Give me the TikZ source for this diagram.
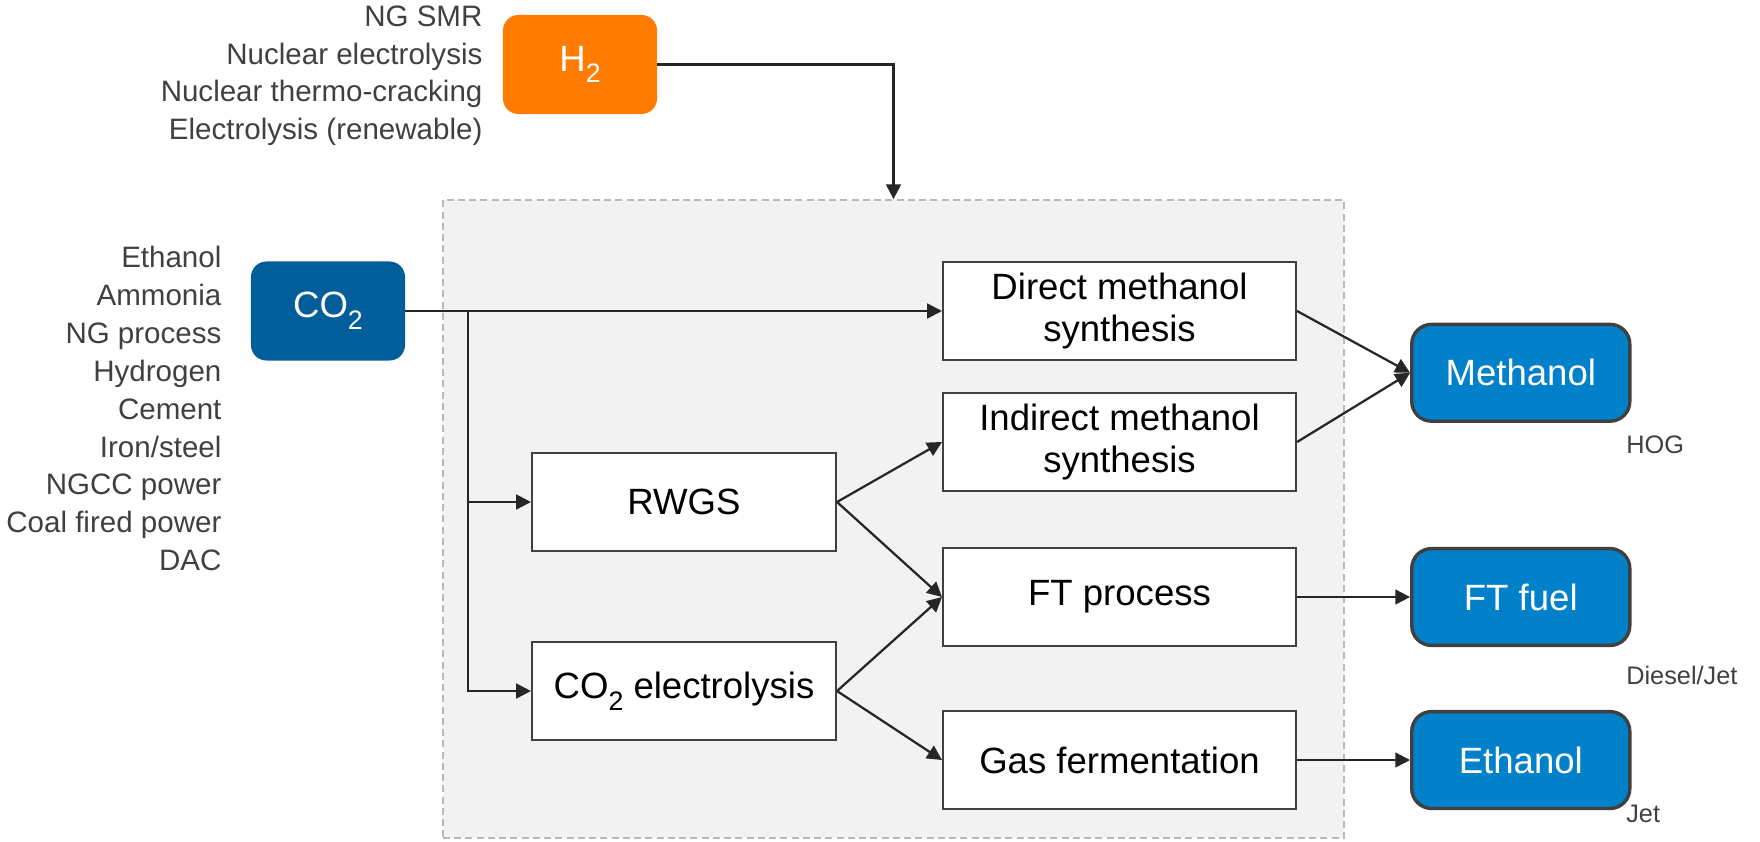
\documentclass[tikz,border=0pt]{standalone}
\usepackage{fontspec}
\setmainfont{Liberation Sans}
\usepackage{tikz}
\usetikzlibrary{arrows.meta, positioning}
\usepackage{xcolor}
\definecolor{hydrogenOrange}{RGB}{255, 124, 0}
\definecolor{carbonBlue}{RGB}{0, 94, 154}
\definecolor{productBlue}{RGB}{0, 129, 201}
\definecolor{borderGray}{RGB}{64, 64, 64}
\definecolor{labelGray}{RGB}{64, 64, 64}
\definecolor{zoneGray}{RGB}{242, 242, 242}
\definecolor{zoneLine}{RGB}{185, 185, 185}
\definecolor{arrowBlack}{RGB}{38, 38, 38}
\newcommand{\lowsub}[1]{\raisebox{-0.6ex}{\fontsize{19}{19}\selectfont #1}}

\begin{document}
\begin{tikzpicture}[
    x=0.025cm, y=-0.025cm,
    srcbox/.style={
        rectangle, rounded corners=11pt, minimum width=3.85cm, minimum height=2.475cm,
        fill=#1, draw=none, text=white, font=\fontsize{26}{30}\selectfont
    },
    procbox/.style={
        rectangle, minimum width=#1, minimum height=2.45cm, inner sep=2pt, align=center,
        draw=borderGray, fill=white, line width=1.4pt, font=\fontsize{26}{30}\selectfont
    },
    prodbox/.style={
        rectangle, rounded corners=14pt, minimum width=5.45cm, minimum height=2.42cm,
        fill=productBlue, draw=borderGray, line width=2.4pt, text=white,
        font=\fontsize{26}{30}\selectfont
    },
    srclist/.style={align=right, inner sep=0pt, text=labelGray, font=\fontsize{21}{26.9}\selectfont},
    note/.style={anchor=west, inner sep=0pt, text=labelGray, font=\fontsize{18}{22}\selectfont},
    arrow/.style={-{Triangle[length=10.5pt, width=10.5pt]}, line width=1.6pt, draw=arrowBlack},
    zonebox/.style={draw=zoneLine, fill=zoneGray, dash pattern=on 5pt off 3pt, line width=1.1pt}
]
\useasboundingbox (0,0) rectangle (1760,841);
% conversion area
\node[zonebox, minimum width=22.525cm, minimum height=15.95cm] (zone) at (893.5,519) {};
% feedstocks
\node[srcbox=hydrogenOrange] (h2) at (580,64.5) {H\lowsub{2}};
\node[srcbox=carbonBlue] (co2) at (328,311) {CO\lowsub{2}};
\node[srclist, left=0.5cm of h2, yshift=-0.28cm] (h2src) {NG SMR\\Nuclear electrolysis\\Nuclear thermo-cracking\\Electrolysis (renewable)};
\node[srclist, left=0.725cm of co2, yshift=-2.44cm] (co2src) {Ethanol\\Ammonia\\NG process\\Hydrogen\\Cement\\Iron/steel\\NGCC power\\Coal fired power\\DAC};
% processes
\node[procbox=8.825cm] (direct) at (1119.5,311) {Direct methanol\\synthesis};
\node[procbox=8.825cm, below=0.775cm of direct] (indirect) {Indirect methanol\\synthesis};
\node[procbox=8.825cm, below=1.375cm of indirect] (ftproc) {FT process};
\node[procbox=8.825cm, below=1.575cm of ftproc] (gasferm) {Gas fermentation};
\node[procbox=7.6cm] (rwgs) at (684,502) {RWGS};
\node[procbox=7.6cm, below=2.225cm of rwgs] (co2el) {CO\lowsub{2} electrolysis};
% products
\node[prodbox, right=2.825cm of ftproc] (ftfuel) {FT fuel};
\node[prodbox, right=2.825cm of gasferm] (ethanol) {Ethanol};
\node[prodbox, above=3.1cm of ftfuel] (methanol) {Methanol};
\node[note] (hognote) at (1626,445) {HOG};
\node[note] (dieselnote) at (1626,675) {Diesel/Jet};
\node[note] (jetnote) at (1626,814) {Jet};
% connectors
\coordinate (split) at (468,311);
\draw[arrow] (h2.east) -| (zone.north);
\draw[arrow] (co2.east) -- (direct.west);
\draw[arrow] (split) |- (rwgs.west);
\draw[arrow] (split) |- (co2el.west);
\draw[arrow] (rwgs.east) -- (indirect.west);
\draw[arrow] (rwgs.east) -- (ftproc.west);
\draw[arrow] (co2el.east) -- (ftproc.west);
\draw[arrow] (co2el.east) -- (gasferm.west);
\draw[arrow] (direct.east) -- (methanol.west);
\draw[arrow] (indirect.east) -- (methanol.west);
\draw[arrow] (ftproc.east) -- (ftfuel.west);
\draw[arrow] (gasferm.east) -- (ethanol.west);
\end{tikzpicture}
\end{document}
